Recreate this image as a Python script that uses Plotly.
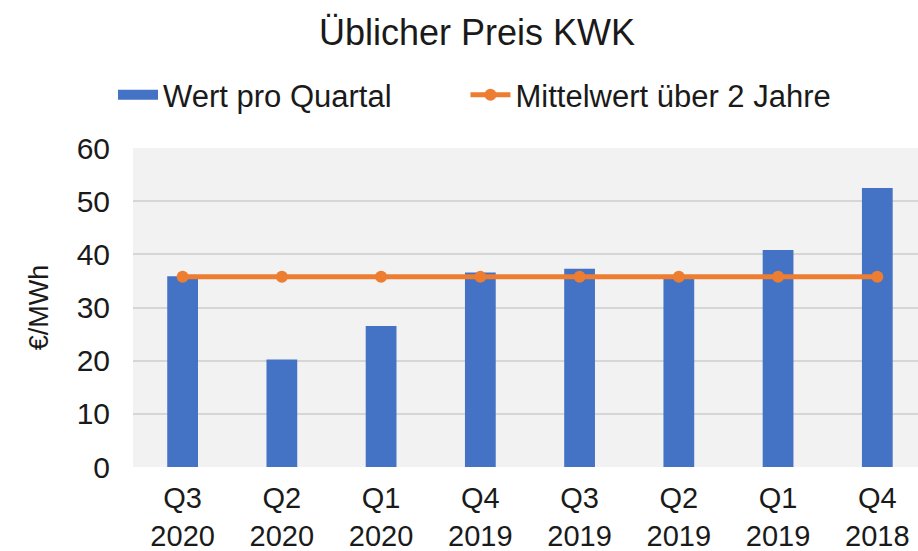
import plotly.graph_objects as go

categories = ["Q3<br>2020", "Q2<br>2020", "Q1<br>2020", "Q4<br>2019",
              "Q3<br>2019", "Q2<br>2019", "Q1<br>2019", "Q4<br>2018"]
quarter_values = [35.9, 20.2, 26.5, 36.6, 37.3, 35.7, 40.8, 52.5]
mean_values = [35.8] * 8

BLUE = "#4472C4"
ORANGE = "#ED7D31"
FONT = "Liberation Sans, Arial, sans-serif"
TXT = "#1a1a1a"
NBSP = "\u00a0"

fig = go.Figure()
fig.add_trace(go.Bar(
    x=categories, y=quarter_values, name="Wert pro Quartal",
    marker=dict(color=BLUE, line=dict(width=0)), width=0.31,
    showlegend=False,
))
# legend swatch for the bars (wide rectangle like the reference)
fig.add_trace(go.Scatter(
    x=[None], y=[None], mode="lines", name="Wert pro Quartal" + NBSP * 8,
    line=dict(color=BLUE, width=17),
))
fig.add_trace(go.Scatter(
    x=categories, y=mean_values, mode="lines+markers",
    name="Mittelwert über 2 Jahre",
    line=dict(color=ORANGE, width=5),
    marker=dict(color=ORANGE, size=12),
))

fig.update_layout(
    width=918, height=551,
    paper_bgcolor="white", plot_bgcolor="#f2f2f2",
    margin=dict(l=133, r=0, t=148, b=84, autoexpand=False),
    font=dict(family=FONT, color=TXT, size=29),
    title=dict(text="Üblicher Preis KWK", x=477/918, xanchor="center",
               y=1 - 32/551, yanchor="middle",
               font=dict(size=36, family=FONT, color=TXT)),
    legend=dict(orientation="h", x=113/918, xanchor="left", xref="container",
                y=1 - 95/551, yref="container", yanchor="middle",
                font=dict(size=31, family=FONT, color=TXT),
                itemwidth=40, tracegroupgap=0,
                bgcolor="rgba(0,0,0,0)"),
    bargap=0.69,
    showlegend=True,
)
fig.update_xaxes(
    range=[-0.5, 7.41], showgrid=False, zeroline=False, showline=False,
    ticks="", tickfont=dict(size=29, family=FONT, color=TXT),
    ticklabelstandoff=11, automargin=False,
    fixedrange=True,
)
fig.update_yaxes(
    range=[0, 60], dtick=10, showgrid=True, gridcolor="#d6d6d6", gridwidth=2,
    zeroline=False, showline=False, ticks="",
    tickfont=dict(size=30, family=FONT, color=TXT),
    ticklabelstandoff=22, automargin=False,
    title=dict(text="€/MWh", font=dict(size=27, family=FONT, color=TXT),
               standoff=20),
    fixedrange=True,
)

fig.write_html("out.html",
               config={"displayModeBar": False},
               post_script="document.body.style.margin='0';"
                           "document.body.style.padding='0';")
